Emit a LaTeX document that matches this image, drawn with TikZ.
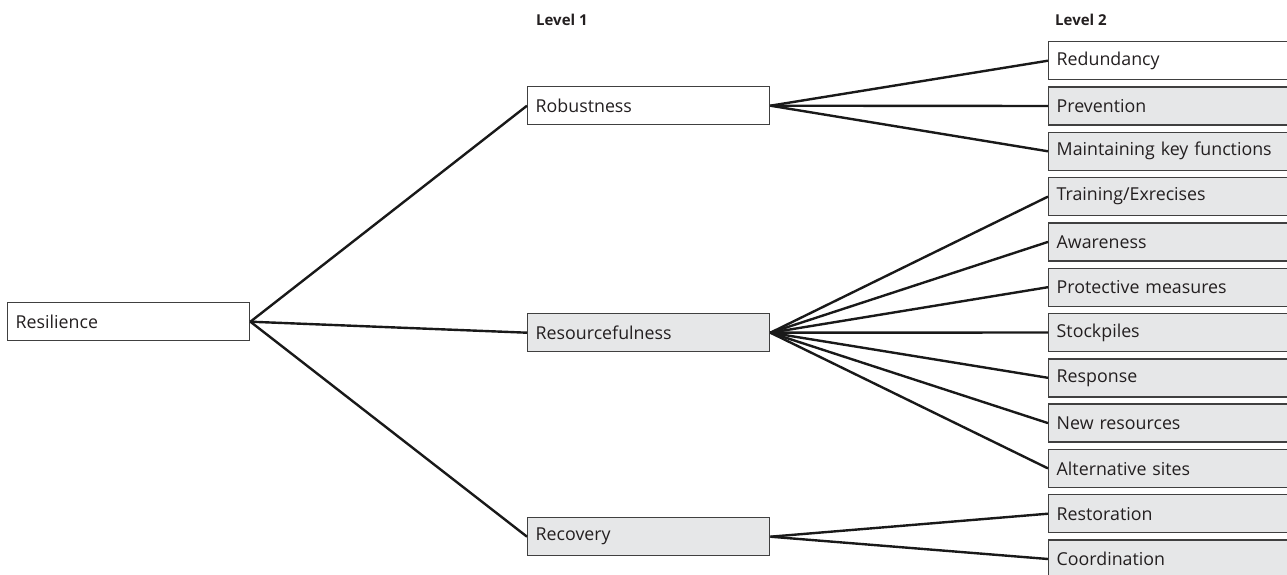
\documentclass[tikz,border=0pt]{standalone}
\usepackage{fontspec}
\setmainfont{Open Sans}
\definecolor{boxline}{HTML}{404040}
\definecolor{boxfill}{HTML}{E6E7E8}
\definecolor{txt}{HTML}{231F20}
\begin{document}
\begin{tikzpicture}[x=1pt,y=-1pt,
  box/.style={draw=boxline, line width=1.4pt, rectangle, anchor=north west,
    minimum height=38pt, inner xsep=8pt, inner ysep=0pt, text=txt,
    font=\fontsize{17.8}{20}\selectfont, align=left},
  lone/.style={box, text width=226pt},
  ltwo/.style={box, text width=244pt},
  grey/.style={fill=boxfill},
  white/.style={fill=white},
  link/.style={draw=black!90, line width=2.4pt},
  lvl/.style={anchor=base west, inner sep=0pt, text=txt, font=\fontsize{15}{18}\selectfont\bfseries}
]
\useasboundingbox (0,0) rectangle (1287,575);
\clip (0,0) rectangle (1287,575);

\node[lvl] (lv1) at (536,26) {Level 1};
\node[lvl] (lv2) at (1055,26) {Level 2};

\node[lone, white] (res) at (7,302) {Resilience};
\node[lone, white] (rob) at (527,86) {Robustness};
\node[lone, grey] (rsf) at (527,313) {Resourcefulness};
\node[lone, grey] (rec) at (527,517) {Recovery};

\node[ltwo, white] (a1) at (1048,41.0) {Redundancy};
\node[ltwo, grey] (a2) at (1048,86.3) {Prevention};
\node[ltwo, grey] (a3) at (1048,131.6) {Maintaining key functions};
\node[ltwo, grey] (b1) at (1048,176.9) {Training/Exrecises};
\node[ltwo, grey] (b2) at (1048,222.2) {Awareness};
\node[ltwo, grey] (b3) at (1048,267.5) {Protective measures};
\node[ltwo, grey] (b4) at (1048,312.8) {Stockpiles};
\node[ltwo, grey] (b5) at (1048,358.1) {Response};
\node[ltwo, grey] (b6) at (1048,403.4) {New resources};
\node[ltwo, grey] (b7) at (1048,448.7) {Alternative sites};
\node[ltwo, grey] (c1) at (1048,494.0) {Restoration};
\node[ltwo, grey] (c2) at (1048,539.3) {Coordination};

\foreach \t in {rob,rsf,rec} \draw[link] (res.east) -- (\t.west);
\foreach \t in {a1,a2,a3} \draw[link] (rob.east) -- (\t.west);
\foreach \t in {b1,b2,b3,b4,b5,b6,b7} \draw[link] (rsf.east) -- (\t.west);
\foreach \t in {c1,c2} \draw[link] (rec.east) -- (\t.west);
\end{tikzpicture}
\end{document}
